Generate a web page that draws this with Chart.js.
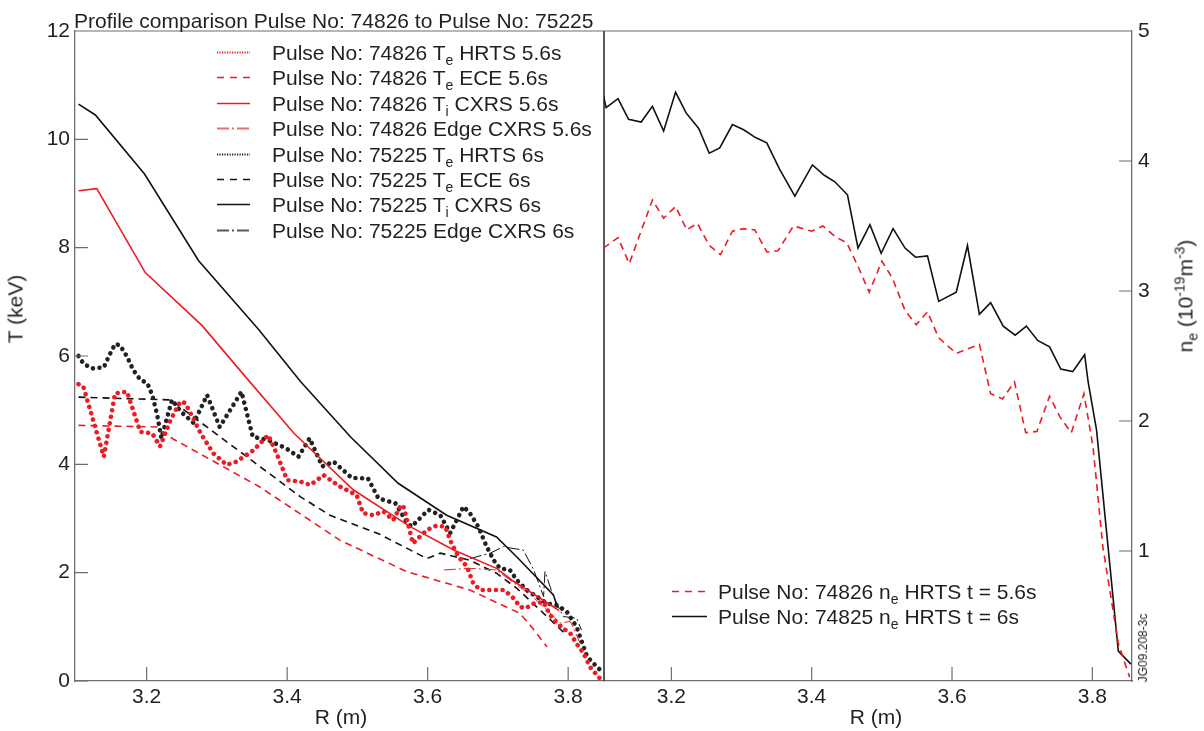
<!DOCTYPE html>
<html>
<head>
<meta charset="utf-8">
<title>Profile comparison Pulse No: 74826 to Pulse No: 75225</title>
<script src="https://cdn.jsdelivr.net/npm/chart.js@4.4.0/dist/chart.umd.min.js"></script>
<style>
  body { margin: 0; background: #fff; font-family: 'Liberation Sans', Arial, sans-serif; color: #231f20; }
  #wrap { position: relative; width: 1204px; height: 731px; overflow: hidden; }
  canvas { position: absolute; top: 0; }
  #leftChart { left: 0; }
  #rightChart { left: 604px; }
  .txt { position: absolute; white-space: nowrap; font-size: 21px; line-height: 25px; z-index: 2; }
  .rot { transform: translate(-50%, -50%) rotate(-90deg); }
  .legend-row { position: absolute; height: 25px; z-index: 2; }
  .legend-row svg { position: absolute; top: 0; }
  .legend-row span { position: absolute; top: 0; white-space: nowrap; font-size: 21px; line-height: 25px; }
  sub { font-size: 14px; vertical-align: -5px; line-height: 0; }
  sup { font-size: 14px; vertical-align: 8px; line-height: 0; }
</style>
</head>
<body>
<div id="wrap">
  <canvas id="leftChart" width="620" height="731"></canvas>
  <canvas id="rightChart" width="600" height="731"></canvas>
  <div class="txt" style="left:74px; top:8px;">Profile comparison Pulse No: 74826 to Pulse No: 75225</div>
  <div class="txt rot" style="left:15px; top:309px;">T (keV)</div>
  <div class="txt" style="left:341px; top:716px; transform:translate(-50%,-50%);">R (m)</div>
  <div class="txt" style="left:876px; top:716px; transform:translate(-50%,-50%);">R (m)</div>
  <div class="txt rot" style="left:1185px; top:296px;">n<sub>e</sub> (10<sup>-19</sup>m<sup>-3</sup>)</div>
  <div class="txt rot" style="left:1143px; top:648px; font-size:12px; line-height:14px;">JG09.208-3c</div>
  <div id="leftLegend"></div>
  <div id="rightLegend"></div>
</div>
<script>
// ---- data ----
const xTicks = [3.2, 3.4, 3.6, 3.8];
const tTicks = [0, 2, 4, 6, 8, 10, 12];
const neTicks = [1, 2, 3, 4, 5];

// Pulse 74826, 5.6s
const hrts74826R = [3.103,3.110,3.139,3.155,3.172,3.191,3.208,3.219,3.234,3.248,3.255,3.277,3.295,3.314,3.328,3.352,3.373,3.385,3.400,3.419,3.433,3.452,3.475,3.499,3.508,3.523,3.537,3.551,3.561,3.565,3.573,3.579,3.599,3.613,3.625,3.634,3.644,3.656,3.665,3.675,3.698,3.708,3.720,3.732,3.739,3.751,3.765,3.774,3.784,3.793,3.803,3.812,3.822,3.831,3.841,3.845];
const hrts74826T = [5.48,5.43,4.14,5.31,5.34,4.60,4.57,4.33,4.82,5.16,5.13,4.57,4.20,3.99,4.05,4.26,4.54,4.20,3.71,3.68,3.62,3.80,3.59,3.43,3.10,3.06,3.13,2.97,3.22,3.25,2.85,2.54,2.79,2.87,2.85,2.54,2.29,2.11,1.80,1.68,1.68,1.68,1.56,1.37,1.34,1.43,1.46,1.22,1.07,0.97,0.88,0.69,0.51,0.26,0.11,0.05];
const ece74826R = [3.103,3.215,3.225,3.36,3.475,3.57,3.66,3.731,3.746,3.77];
const ece74826T = [4.72,4.69,4.56,3.59,2.60,2.02,1.68,1.25,1.03,0.63];
const cxrs74826R = [3.103,3.129,3.198,3.279,3.345,3.41,3.494,3.575,3.637,3.698,3.72,3.779,3.787];
const cxrs74826T = [9.05,9.09,7.54,6.56,5.55,4.57,3.53,2.85,2.42,2.08,1.86,1.37,1.30];
const edge74826R = [3.623,3.660,3.698,3.727,3.750,3.770,3.789,3.803,3.817];
const edge74826T = [2.05,2.08,2.05,1.77,1.55,1.31,1.07,1.10,0.70];

// Pulse 75225, 6s
const hrts75225R = [3.103,3.110,3.122,3.139,3.146,3.155,3.162,3.172,3.181,3.191,3.201,3.208,3.215,3.221,3.236,3.249,3.267,3.286,3.304,3.335,3.351,3.372,3.398,3.416,3.432,3.450,3.466,3.492,3.515,3.530,3.554,3.570,3.577,3.601,3.618,3.632,3.651,3.660,3.672,3.684,3.694,3.703,3.717,3.727,3.741,3.755,3.770,3.784,3.798,3.812,3.822,3.827,3.841,3.850];
const hrts75225T = [6.00,5.86,5.77,5.79,5.99,6.22,6.20,5.99,5.74,5.56,5.50,5.28,4.91,4.48,5.19,4.97,4.76,5.28,4.69,5.34,4.51,4.45,4.30,4.14,4.48,3.96,4.05,3.75,3.74,3.37,3.28,2.94,2.85,3.16,3.06,2.73,3.22,3.10,2.85,2.48,2.23,2.08,2.05,1.86,1.68,1.56,1.43,1.40,1.28,1.00,0.63,0.45,0.26,0.15];
const ece75225R = [3.103,3.234,3.419,3.461,3.53,3.599,3.618,3.660,3.698,3.727,3.765,3.795];
const ece75225T = [5.24,5.19,3.40,3.06,2.72,2.26,2.36,2.23,1.99,1.71,1.25,0.88];
const cxrs75225R = [3.103,3.127,3.197,3.274,3.36,3.419,3.49,3.558,3.627,3.698,3.727,3.779,3.785];
const cxrs75225T = [10.65,10.45,9.36,7.76,6.48,5.53,4.51,3.65,3.06,2.66,2.29,1.59,1.35];
const edge75225R = [3.660,3.689,3.708,3.720,3.736,3.751,3.765,3.767,3.779,3.793,3.812,3.819];
const edge75225T = [2.26,2.36,2.48,2.45,2.42,2.05,1.56,2.02,1.56,1.19,1.16,0.94];

// density profiles (right panel)
const ne74826R = [3.103,3.124,3.140,3.173,3.189,3.206,3.222,3.237,3.254,3.270,3.287,3.303,3.319,3.336,3.352,3.374,3.400,3.416,3.433,3.450,3.466,3.482,3.500,3.515,3.533,3.549,3.565,3.581,3.606,3.639,3.655,3.672,3.689,3.705,3.721,3.739,3.754,3.770,3.788,3.801,3.815,3.837,3.853];
const ne74826 = [3.33,3.41,3.21,3.70,3.56,3.65,3.47,3.52,3.35,3.28,3.46,3.48,3.47,3.30,3.31,3.50,3.46,3.50,3.42,3.37,3.19,2.99,3.23,3.10,2.85,2.74,2.84,2.64,2.52,2.59,2.21,2.17,2.30,1.91,1.92,2.19,2.03,1.91,2.21,1.80,1.03,0.29,0.03];
const ne74825R = [3.103,3.107,3.124,3.139,3.157,3.173,3.189,3.206,3.221,3.239,3.254,3.269,3.287,3.303,3.320,3.336,3.354,3.376,3.401,3.418,3.433,3.451,3.466,3.483,3.499,3.516,3.533,3.548,3.565,3.581,3.606,3.622,3.639,3.655,3.673,3.690,3.706,3.722,3.739,3.755,3.772,3.789,3.794,3.806,3.837,3.855];
const ne74825 = [4.51,4.41,4.48,4.32,4.30,4.42,4.23,4.53,4.37,4.25,4.06,4.10,4.28,4.24,4.18,4.14,3.94,3.73,3.97,3.89,3.84,3.74,3.33,3.51,3.29,3.48,3.33,3.26,3.27,2.92,2.99,3.35,2.82,2.91,2.73,2.66,2.73,2.62,2.57,2.40,2.38,2.51,2.30,1.93,0.23,0.13];

const leftLabels = [
  'Pulse No: 74826 T<sub>e</sub> HRTS 5.6s',
  'Pulse No: 74826 T<sub>e</sub> ECE 5.6s',
  'Pulse No: 74826 T<sub>i</sub> CXRS 5.6s',
  'Pulse No: 74826 Edge CXRS 5.6s',
  'Pulse No: 75225 T<sub>e</sub> HRTS 6s',
  'Pulse No: 75225 T<sub>e</sub> ECE 6s',
  'Pulse No: 75225 T<sub>i</sub> CXRS 6s',
  'Pulse No: 75225 Edge CXRS 6s'
];
const rightLabels = [
  'Pulse No: 74826 n<sub>e</sub> HRTS t = 5.6s',
  'Pulse No: 74825 n<sub>e</sub> HRTS t = 6s'
];

const RED = '#ed1c24';
const BLACK = '#111111';
const AXIS = '#6d6e71';
const TEXT = '#231f20';

Chart.defaults.font.family = "'Liberation Sans', Arial, sans-serif";
Chart.defaults.font.size = 21;
Chart.defaults.color = TEXT;

function pts(r, v) {
  return r.map((x, i) => ({ x: x, y: v[i] }));
}

function series(label, r, v, color, style) {
  const ds = {
    label: label.replace(/<[^>]+>/g, ''),
    htmlLabel: label,
    data: pts(r, v),
    borderColor: color,
    borderWidth: 1.6,
    pointRadius: 0,
    tension: 0,
    fill: false,
    legendDash: [],
    legendWidth: 1.6
  };
  if (style === 'dot') {
    ds.borderWidth = 4.6;
    ds.borderDash = [0.01, 6.6];
    ds.borderCapStyle = 'round';
    ds.legendDash = [1.2, 1.3];
    ds.legendWidth = 1.8;
  } else if (style === 'dash') {
    ds.borderDash = [7, 5];
    ds.legendDash = [7, 6];
  } else if (style === 'dashdot') {
    ds.borderWidth = 1;
    ds.borderDash = [12, 3, 2, 3];
    ds.legendDash = [12, 3, 2, 3];
    ds.legendWidth = 1.8;
  }
  return ds;
}

// inward tick marks plus the panel frame
const frameTicks = {
  id: 'frameTicks',
  afterDatasetsDraw(chart) {
    const { ctx, chartArea: a, scales } = chart;
    const xs = scales.x, ys = scales.y;
    const onLeft = ys.options.position === 'left';
    ctx.save();
    ctx.strokeStyle = AXIS;
    ctx.lineWidth = 1.2;
    ctx.beginPath();
    xs.ticks.forEach(t => {
      const px = xs.getPixelForValue(t.value);
      ctx.moveTo(px, a.bottom);
      ctx.lineTo(px, a.bottom - 14);
    });
    ys.ticks.forEach(t => {
      const py = ys.getPixelForValue(t.value);
      const x0 = onLeft ? a.left : a.right;
      ctx.moveTo(x0, py);
      ctx.lineTo(onLeft ? x0 + 13 : x0 - 13, py);
    });
    ctx.moveTo(a.left, a.top);
    ctx.lineTo(a.right, a.top);
    ctx.stroke();
    if (onLeft) {
      ctx.strokeStyle = '#000';
      ctx.lineWidth = 1.3;
      ctx.beginPath();
      ctx.moveTo(a.right, a.top);
      ctx.lineTo(a.right, a.bottom);
      ctx.stroke();
    }
    ctx.restore();
  }
};

function makeOptions(xMin, xMax, yMax, yTicks, yPos, yWidth, padRight) {
  return {
    responsive: false,
    animation: false,
    devicePixelRatio: 1,
    layout: { padding: { left: 0, top: 31, right: padRight, bottom: 0 } },
    plugins: { legend: { display: false }, tooltip: { enabled: false } },
    scales: {
      x: {
        type: 'linear',
        min: xMin,
        max: xMax,
        afterBuildTicks: s => { s.ticks = xTicks.map(v => ({ value: v })); },
        afterFit: s => { s.height = 50; },
        ticks: { padding: 4, maxRotation: 0, callback: v => v.toFixed(1) },
        grid: { drawOnChartArea: false, drawTicks: false },
        border: { color: AXIS, width: 1.3 }
      },
      y: {
        type: 'linear',
        position: yPos,
        min: 0,
        max: yMax,
        afterBuildTicks: s => { s.ticks = yTicks.map(v => ({ value: v })); },
        afterFit: s => { s.width = yWidth; },
        ticks: { padding: yPos === 'left' ? 5 : 6 },
        grid: { drawOnChartArea: false, drawTicks: false },
        border: { color: AXIS, width: 1.3 }
      }
    }
  };
}

const leftChart = new Chart(document.getElementById('leftChart'), {
  type: 'line',
  data: {
    datasets: [
      series(leftLabels[0], hrts74826R, hrts74826T, RED, 'dot'),
      series(leftLabels[1], ece74826R, ece74826T, RED, 'dash'),
      series(leftLabels[2], cxrs74826R, cxrs74826T, RED, 'solid'),
      series(leftLabels[3], edge74826R, edge74826T, RED, 'dashdot'),
      series(leftLabels[4], hrts75225R, hrts75225T, '#222222', 'dot'),
      series(leftLabels[5], ece75225R, ece75225T, BLACK, 'dash'),
      series(leftLabels[6], cxrs75225R, cxrs75225T, BLACK, 'solid'),
      series(leftLabels[7], edge75225R, edge75225T, BLACK, 'dashdot')
    ]
  },
  options: makeOptions(3.098, 3.851, 12, tTicks, 'left', 75, 16),
  plugins: [frameTicks]
});

const rightChart = new Chart(document.getElementById('rightChart'), {
  type: 'line',
  data: {
    datasets: [
      series(rightLabels[0], ne74826R, ne74826, RED, 'dash'),
      series(rightLabels[1], ne74825R, ne74825, BLACK, 'solid')
    ]
  },
  options: makeOptions(3.104, 3.8565, 5, neTicks, 'right', 72, 0),
  plugins: [frameTicks]
});

// Legend swatch colours are a little lighter for the dash-dot entries
leftChart.data.datasets[3].legendColor = '#f26b70';
leftChart.data.datasets[7].legendColor = '#58595b';

function buildLegend(boxId, chart, left, textLeft, top, step, swatch) {
  const box = document.getElementById(boxId);
  chart.data.datasets.forEach((ds, i) => {
    const row = document.createElement('div');
    row.className = 'legend-row';
    row.style.left = left + 'px';
    row.style.top = (top + i * step) + 'px';
    const col = ds.legendColor || ds.borderColor;
    row.innerHTML =
      '<svg width="' + swatch + '" height="25" style="left:0">' +
      '<line x1="0" y1="12.5" x2="' + swatch + '" y2="12.5" stroke="' + col +
      '" stroke-width="' + ds.legendWidth + '" stroke-dasharray="' + ds.legendDash.join(' ') + '"/></svg>' +
      '<span style="left:' + (textLeft - left) + 'px">' + ds.htmlLabel + '</span>';
    box.appendChild(row);
  });
}

buildLegend('leftLegend', leftChart, 217, 272, 40, 25.4, 33);
buildLegend('rightLegend', rightChart, 672, 718, 578.5, 25.6, 35);
</script>
</body>
</html>
